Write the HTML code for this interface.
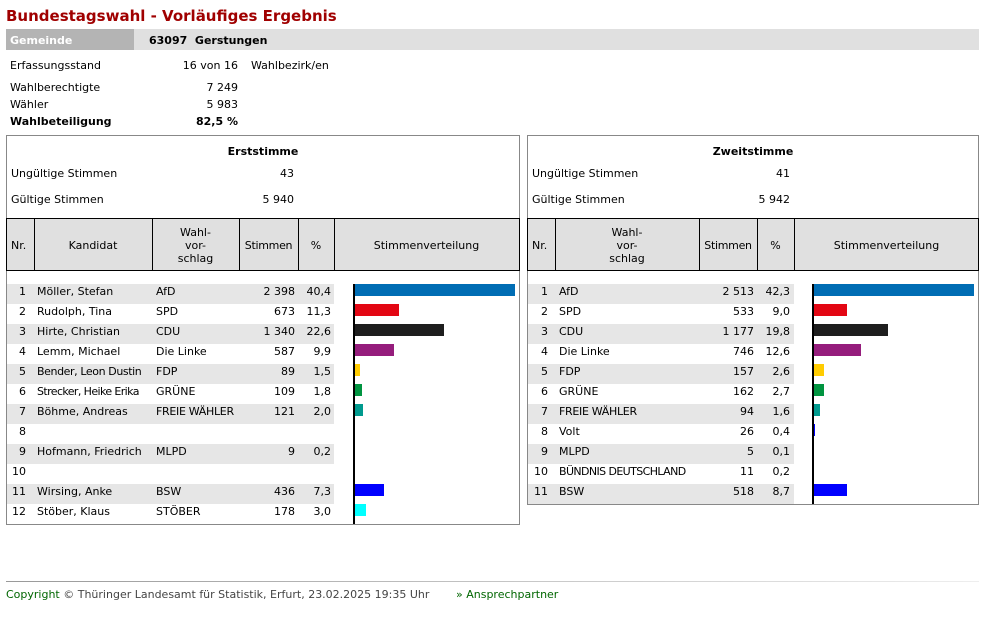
<!DOCTYPE html>
<html><head><meta charset="utf-8">
<style>
body{margin:0;width:996px;height:617px;background:#fff;position:relative;font-family:"DejaVu Sans",Verdana,sans-serif;font-size:11px;line-height:17px;color:#000;overflow:hidden}
div,span{position:absolute;white-space:nowrap}
.r{text-align:right}
.b{font-weight:bold}
.box{border:1px solid #888;box-sizing:border-box}
.hd{background:#e0e0e0;border:1px solid #000;box-sizing:border-box}
.vl{width:1px;background:#000}
.g{background:#e6e6e6;height:20px}
.row{height:20px;line-height:16px}
.bar{height:12px}
.ax{width:2px;background:#000}
.c{text-align:center}
</style></head><body>
<div style="left:6px;top:8px;font-size:15px;font-weight:bold;color:#a00000;">Bundestagswahl - Vorläufiges Ergebnis</div>
<div style="left:6px;top:29px;width:128px;height:21px;background:#b4b4b4"></div>
<div style="left:134px;top:29px;width:845px;height:21px;background:#e0e0e0"></div>
<div class="b" style="left:10px;top:32px;color:#fff">Gemeinde</div>
<div class="b" style="left:149px;top:32px">63097&nbsp; Gerstungen</div>
<div style="left:10px;top:57px">Erfassungsstand</div>
<div class="r" style="left:140px;width:98px;top:57px">16 von 16</div>
<div style="left:251px;top:57px">Wahlbezirk/en</div>
<div style="left:10px;top:79px">Wahlberechtigte</div>
<div class="r" style="left:150px;width:88px;top:79px">7 249</div>
<div style="left:10px;top:96px">Wähler</div>
<div class="r" style="left:150px;width:88px;top:96px">5 983</div>
<div class="b" style="left:10px;top:113px">Wahlbeteiligung</div>
<div class="r b" style="left:150px;width:88px;top:113px">82,5 %</div>

<!-- left box -->
<div class="box" style="left:6px;top:135px;width:514px;height:390px"></div>
<div class="b c" style="left:6px;width:514px;top:143px">Erststimme</div>
<div style="left:11px;top:165px">Ungültige Stimmen</div>
<div class="r" style="left:200px;width:94px;top:165px">43</div>
<div style="left:11px;top:191px">Gültige Stimmen</div>
<div class="r" style="left:200px;width:94px;top:191px">5 940</div>
<div class="hd" style="left:6px;top:218px;width:514px;height:53px"></div>
<div class="vl" style="left:34px;top:218px;height:53px"></div>
<div class="vl" style="left:152px;top:218px;height:53px"></div>
<div class="vl" style="left:239px;top:218px;height:53px"></div>
<div class="vl" style="left:298px;top:218px;height:53px"></div>
<div class="vl" style="left:334px;top:218px;height:53px"></div>
<div style="left:11px;top:237px">Nr.</div>
<div class="c" style="left:34px;width:118px;top:237px">Kandidat</div>
<div class="c" style="left:152px;width:87px;top:226px;line-height:13px;white-space:normal">Wahl-<br>vor-<br>schlag</div>
<div class="c" style="left:239px;width:59px;top:237px;letter-spacing:-0.3px">Stimmen</div>
<div class="c" style="left:298px;width:36px;top:237px">%</div>
<div class="c" style="left:334px;width:185px;top:237px">Stimmenverteilung</div>

<div class="g" style="left:7px;top:284px;width:327px"></div>
<div class="g" style="left:7px;top:324px;width:327px"></div>
<div class="g" style="left:7px;top:364px;width:327px"></div>
<div class="g" style="left:7px;top:404px;width:327px"></div>
<div class="g" style="left:7px;top:444px;width:327px"></div>
<div class="g" style="left:7px;top:484px;width:327px"></div>

<div style="left:0;top:284px;width:520px">
<div class="row" style="top:0;width:520px"><span class="r" style="left:0;width:26px">1</span><span style="left:37px">Möller, Stefan</span><span style="left:156px">AfD</span><span class="r" style="left:240px;width:55px">2 398</span><span class="r" style="left:299px;width:32px">40,4</span></div>
<div class="row" style="top:20px;width:520px"><span class="r" style="left:0;width:26px">2</span><span style="left:37px">Rudolph, Tina</span><span style="left:156px">SPD</span><span class="r" style="left:240px;width:55px">673</span><span class="r" style="left:299px;width:32px">11,3</span></div>
<div class="row" style="top:40px;width:520px"><span class="r" style="left:0;width:26px">3</span><span style="left:37px">Hirte, Christian</span><span style="left:156px">CDU</span><span class="r" style="left:240px;width:55px">1 340</span><span class="r" style="left:299px;width:32px">22,6</span></div>
<div class="row" style="top:60px;width:520px"><span class="r" style="left:0;width:26px">4</span><span style="left:37px">Lemm, Michael</span><span style="left:156px">Die Linke</span><span class="r" style="left:240px;width:55px">587</span><span class="r" style="left:299px;width:32px">9,9</span></div>
<div class="row" style="top:80px;width:520px"><span class="r" style="left:0;width:26px">5</span><span style="left:37px;letter-spacing:-0.4px">Bender, Leon Dustin</span><span style="left:156px">FDP</span><span class="r" style="left:240px;width:55px">89</span><span class="r" style="left:299px;width:32px">1,5</span></div>
<div class="row" style="top:100px;width:520px"><span class="r" style="left:0;width:26px">6</span><span style="left:37px;letter-spacing:-0.6px">Strecker, Heike Erika</span><span style="left:156px">GRÜNE</span><span class="r" style="left:240px;width:55px">109</span><span class="r" style="left:299px;width:32px">1,8</span></div>
<div class="row" style="top:120px;width:520px"><span class="r" style="left:0;width:26px">7</span><span style="left:37px">Böhme, Andreas</span><span style="left:156px;letter-spacing:-0.3px">FREIE WÄHLER</span><span class="r" style="left:240px;width:55px">121</span><span class="r" style="left:299px;width:32px">2,0</span></div>
<div class="row" style="top:140px;width:520px"><span class="r" style="left:0;width:26px">8</span></div>
<div class="row" style="top:160px;width:520px"><span class="r" style="left:0;width:26px">9</span><span style="left:37px">Hofmann, Friedrich</span><span style="left:156px">MLPD</span><span class="r" style="left:240px;width:55px">9</span><span class="r" style="left:299px;width:32px">0,2</span></div>
<div class="row" style="top:180px;width:520px"><span class="r" style="left:0;width:26px">10</span></div>
<div class="row" style="top:200px;width:520px"><span class="r" style="left:0;width:26px">11</span><span style="left:37px">Wirsing, Anke</span><span style="left:156px">BSW</span><span class="r" style="left:240px;width:55px">436</span><span class="r" style="left:299px;width:32px">7,3</span></div>
<div class="row" style="top:220px;width:520px"><span class="r" style="left:0;width:26px">12</span><span style="left:37px">Stöber, Klaus</span><span style="left:156px">STÖBER</span><span class="r" style="left:240px;width:55px">178</span><span class="r" style="left:299px;width:32px">3,0</span></div>
</div>
<div class="ax" style="left:353px;top:284px;height:240px"></div>
<div class="bar" style="left:355px;top:284px;width:160px;background:#006db4"></div>
<div class="bar" style="left:355px;top:304px;width:44px;background:#e30613"></div>
<div class="bar" style="left:355px;top:324px;width:89px;background:#1e1e1e"></div>
<div class="bar" style="left:355px;top:344px;width:39px;background:#951d7c"></div>
<div class="bar" style="left:355px;top:364px;width:5px;background:#ffcc00"></div>
<div class="bar" style="left:355px;top:384px;width:7px;background:#009440"></div>
<div class="bar" style="left:355px;top:404px;width:8px;background:#009a8e"></div>
<div class="bar" style="left:355px;top:484px;width:29px;background:#0000ff"></div>
<div class="bar" style="left:355px;top:504px;width:11px;background:#00ffff"></div>

<!-- right box -->
<div class="box" style="left:527px;top:135px;width:452px;height:370px"></div>
<div class="b c" style="left:527px;width:452px;top:143px">Zweitstimme</div>
<div style="left:532px;top:165px">Ungültige Stimmen</div>
<div class="r" style="left:690px;width:100px;top:165px">41</div>
<div style="left:532px;top:191px">Gültige Stimmen</div>
<div class="r" style="left:690px;width:100px;top:191px">5 942</div>
<div class="hd" style="left:527px;top:218px;width:452px;height:53px"></div>
<div class="vl" style="left:555px;top:218px;height:53px"></div>
<div class="vl" style="left:699px;top:218px;height:53px"></div>
<div class="vl" style="left:757px;top:218px;height:53px"></div>
<div class="vl" style="left:794px;top:218px;height:53px"></div>
<div style="left:532px;top:237px">Nr.</div>
<div class="c" style="left:555px;width:144px;top:226px;line-height:13px;white-space:normal">Wahl-<br>vor-<br>schlag</div>
<div class="c" style="left:699px;width:58px;top:237px;letter-spacing:-0.3px">Stimmen</div>
<div class="c" style="left:757px;width:37px;top:237px">%</div>
<div class="c" style="left:794px;width:185px;top:237px">Stimmenverteilung</div>

<div class="g" style="left:528px;top:284px;width:266px"></div>
<div class="g" style="left:528px;top:324px;width:266px"></div>
<div class="g" style="left:528px;top:364px;width:266px"></div>
<div class="g" style="left:528px;top:404px;width:266px"></div>
<div class="g" style="left:528px;top:444px;width:266px"></div>
<div class="g" style="left:528px;top:484px;width:266px"></div>

<div style="left:521px;top:284px;width:460px">
<div class="row" style="top:0;width:460px"><span class="r" style="left:0;width:27px">1</span><span style="left:38px">AfD</span><span class="r" style="left:180px;width:53px">2 513</span><span class="r" style="left:237px;width:32px">42,3</span></div>
<div class="row" style="top:20px;width:460px"><span class="r" style="left:0;width:27px">2</span><span style="left:38px">SPD</span><span class="r" style="left:180px;width:53px">533</span><span class="r" style="left:237px;width:32px">9,0</span></div>
<div class="row" style="top:40px;width:460px"><span class="r" style="left:0;width:27px">3</span><span style="left:38px">CDU</span><span class="r" style="left:180px;width:53px">1 177</span><span class="r" style="left:237px;width:32px">19,8</span></div>
<div class="row" style="top:60px;width:460px"><span class="r" style="left:0;width:27px">4</span><span style="left:38px">Die Linke</span><span class="r" style="left:180px;width:53px">746</span><span class="r" style="left:237px;width:32px">12,6</span></div>
<div class="row" style="top:80px;width:460px"><span class="r" style="left:0;width:27px">5</span><span style="left:38px">FDP</span><span class="r" style="left:180px;width:53px">157</span><span class="r" style="left:237px;width:32px">2,6</span></div>
<div class="row" style="top:100px;width:460px"><span class="r" style="left:0;width:27px">6</span><span style="left:38px">GRÜNE</span><span class="r" style="left:180px;width:53px">162</span><span class="r" style="left:237px;width:32px">2,7</span></div>
<div class="row" style="top:120px;width:460px"><span class="r" style="left:0;width:27px">7</span><span style="left:38px;letter-spacing:-0.3px">FREIE WÄHLER</span><span class="r" style="left:180px;width:53px">94</span><span class="r" style="left:237px;width:32px">1,6</span></div>
<div class="row" style="top:140px;width:460px"><span class="r" style="left:0;width:27px">8</span><span style="left:38px">Volt</span><span class="r" style="left:180px;width:53px">26</span><span class="r" style="left:237px;width:32px">0,4</span></div>
<div class="row" style="top:160px;width:460px"><span class="r" style="left:0;width:27px">9</span><span style="left:38px">MLPD</span><span class="r" style="left:180px;width:53px">5</span><span class="r" style="left:237px;width:32px">0,1</span></div>
<div class="row" style="top:180px;width:460px"><span class="r" style="left:0;width:27px">10</span><span style="left:38px;letter-spacing:-0.6px">BÜNDNIS DEUTSCHLAND</span><span class="r" style="left:180px;width:53px">11</span><span class="r" style="left:237px;width:32px">0,2</span></div>
<div class="row" style="top:200px;width:460px"><span class="r" style="left:0;width:27px">11</span><span style="left:38px">BSW</span><span class="r" style="left:180px;width:53px">518</span><span class="r" style="left:237px;width:32px">8,7</span></div>
</div>
<div class="ax" style="left:812px;top:284px;height:220px"></div>
<div class="bar" style="left:814px;top:284px;width:160px;background:#006db4"></div>
<div class="bar" style="left:814px;top:304px;width:33px;background:#e30613"></div>
<div class="bar" style="left:814px;top:324px;width:74px;background:#1e1e1e"></div>
<div class="bar" style="left:814px;top:344px;width:47px;background:#951d7c"></div>
<div class="bar" style="left:814px;top:364px;width:10px;background:#ffcc00"></div>
<div class="bar" style="left:814px;top:384px;width:10px;background:#009440"></div>
<div class="bar" style="left:814px;top:404px;width:6px;background:#009a8e"></div>
<div class="bar" style="left:814px;top:424px;width:1px;background:#0000ff"></div>
<div class="bar" style="left:814px;top:484px;width:33px;background:#0000ff"></div>

<!-- footer -->
<div style="left:6px;top:581px;width:973px;height:1px;background:linear-gradient(to right,#999,#eee)"></div>
<div style="left:6px;top:586px;color:#444"><span style="position:static;color:#006600">Copyright</span> © Thüringer Landesamt für Statistik, Erfurt, 23.02.2025 19:35 Uhr</div>
<div style="left:456px;top:586px;color:#006600">» Ansprechpartner</div>
</body></html>
